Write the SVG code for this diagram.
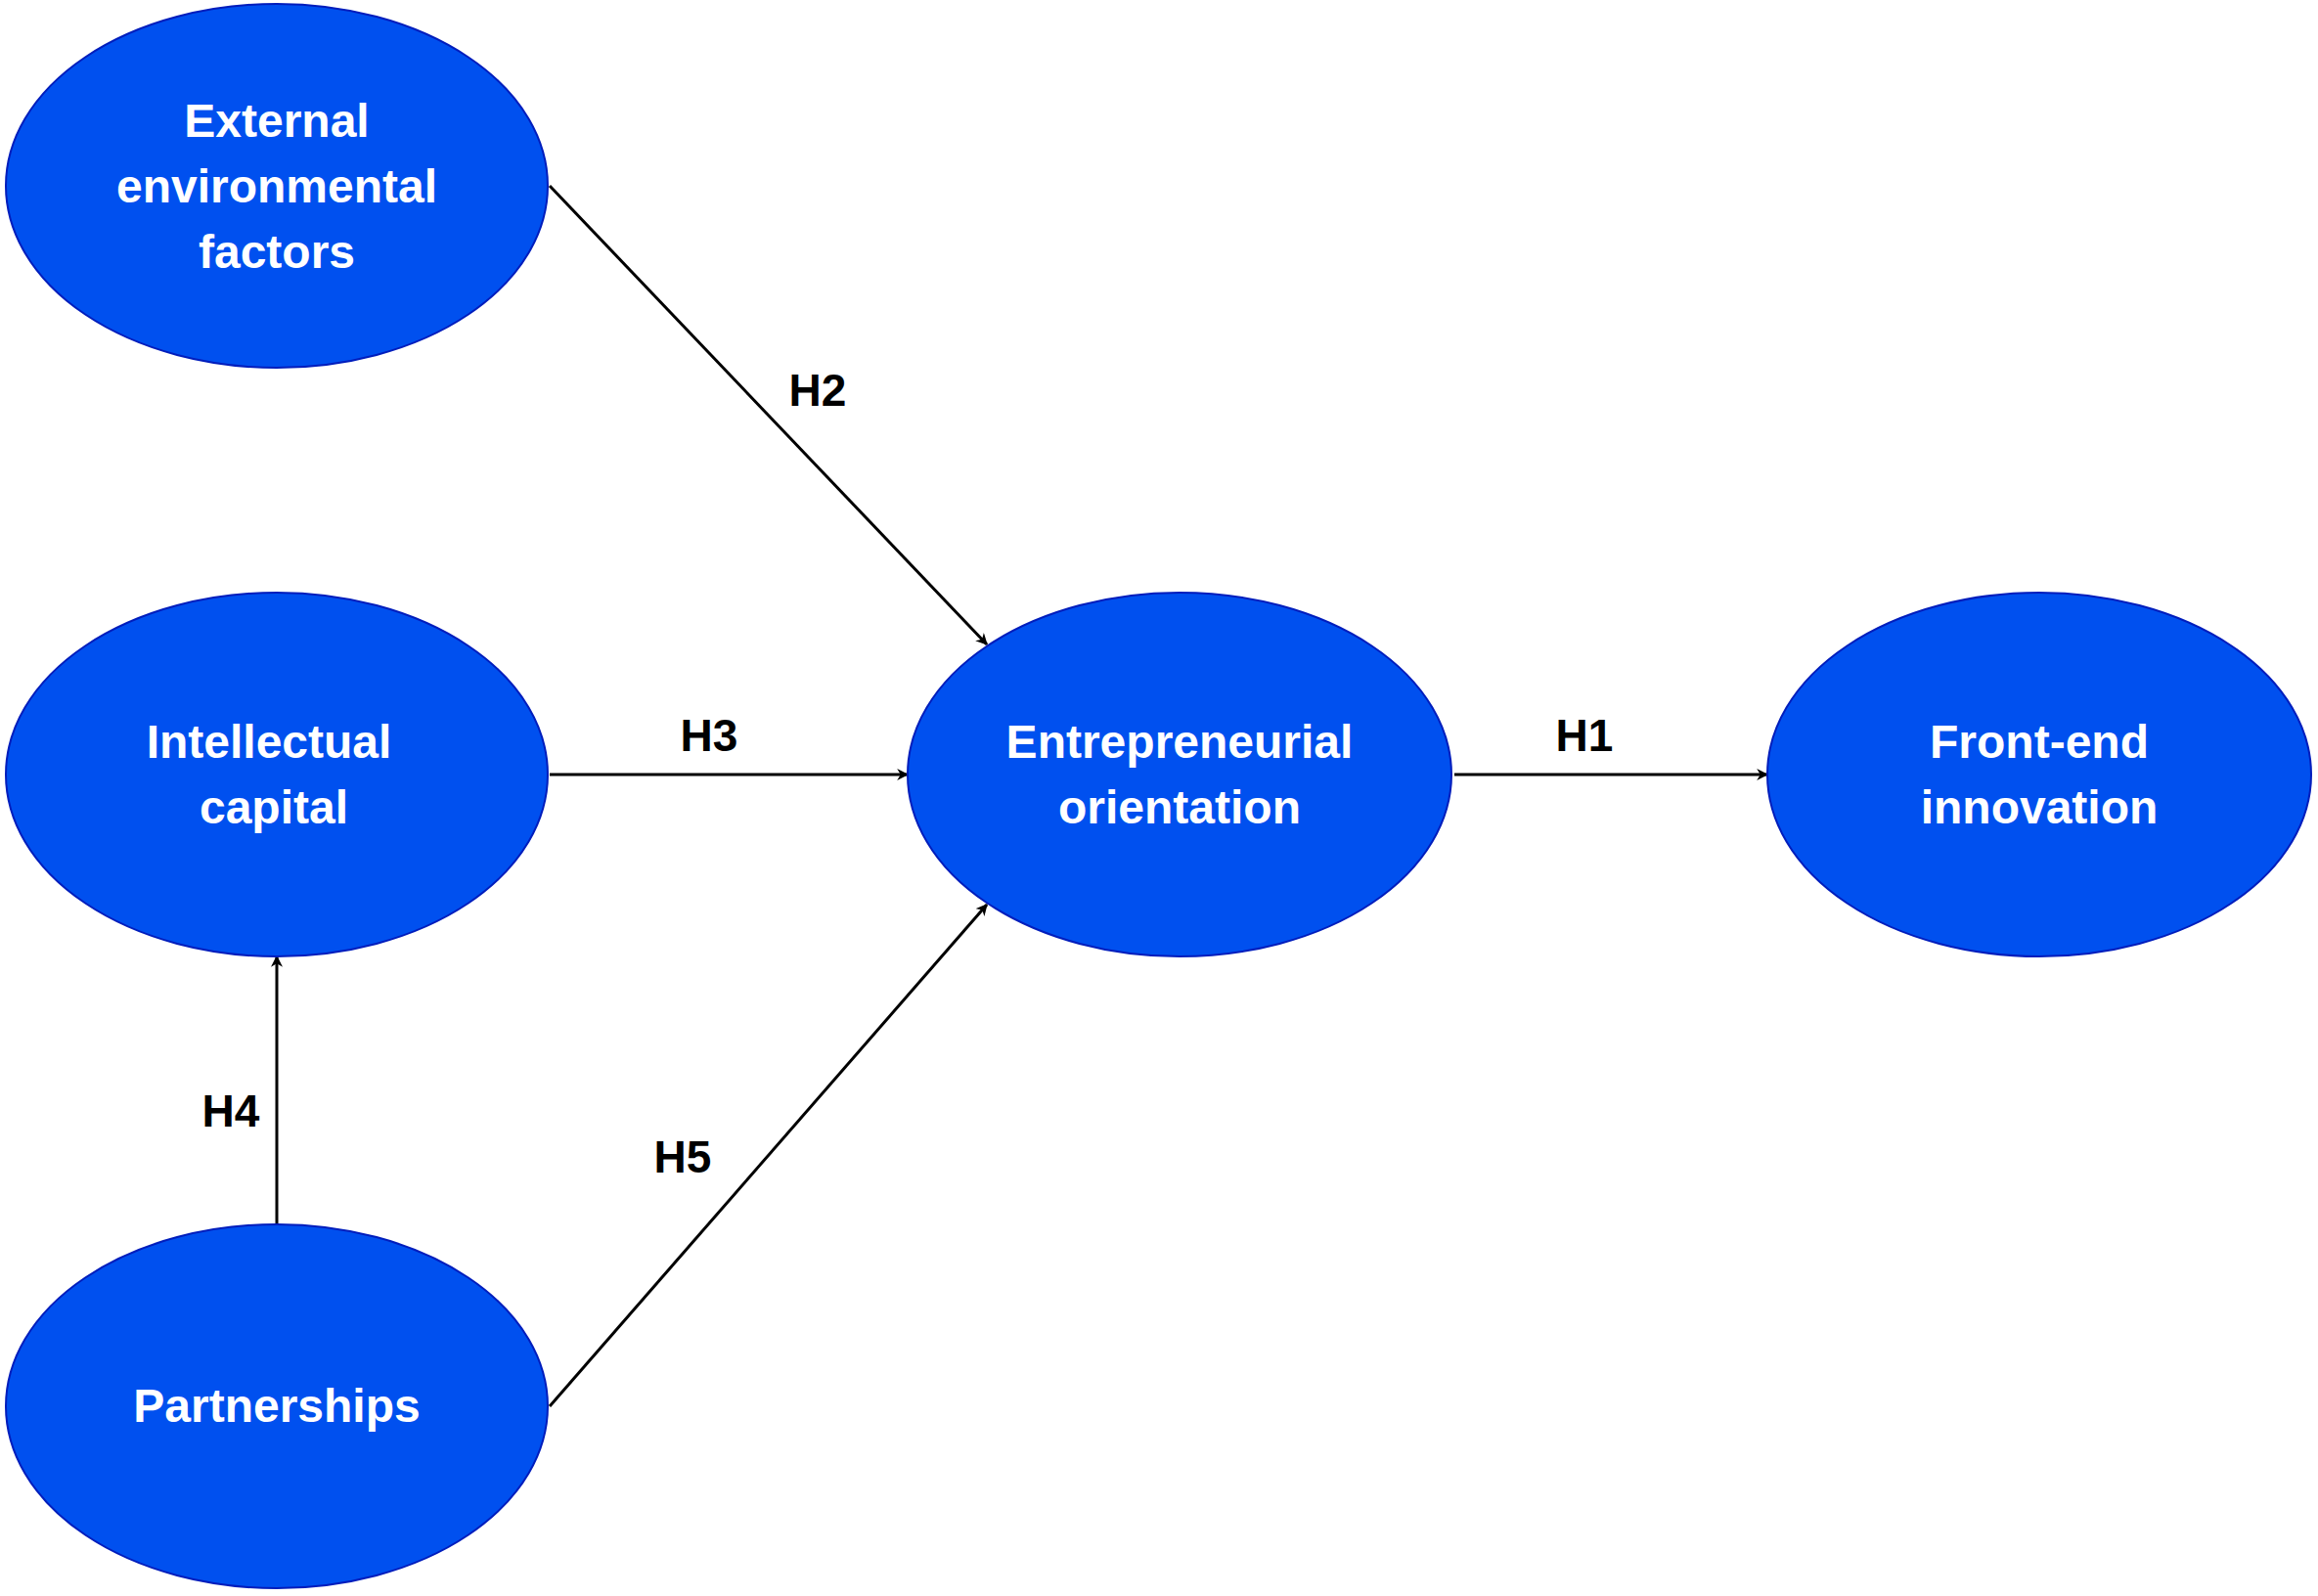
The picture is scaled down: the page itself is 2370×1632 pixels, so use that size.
<svg xmlns="http://www.w3.org/2000/svg" width="2370" height="1632" viewBox="0 0 2370 1632">
<defs>
<style>
.n{fill:#0050ef;stroke:#001dbc;stroke-width:2}
.t{font-family:"Liberation Sans",Arial,sans-serif;font-weight:bold;font-size:48px;fill:#fff;text-anchor:middle}
.l{font-family:"Liberation Sans",Arial,sans-serif;font-weight:bold;font-size:46px;fill:#000;text-anchor:middle}
.e{stroke:#000;stroke-width:3;fill:none;marker-end:url(#a)}
</style>
<marker id="a" viewBox="0 0 20 20" refX="18" refY="10" markerWidth="12" markerHeight="12" markerUnits="userSpaceOnUse" orient="auto">
<path d="M0,0 L20,10 L0,20 L6,10 Z" fill="#000"/>
</marker>
</defs>
<rect width="2370" height="1632" fill="#fff"/>
<g id="connectors">
<line class="e" x1="562" y1="190" x2="1009" y2="659"/>
<line class="e" x1="562" y1="792" x2="928" y2="792"/>
<line class="e" x1="1487" y1="792" x2="1807" y2="792"/>
<line class="e" x1="283" y1="1253" x2="283" y2="978"/>
<line class="e" x1="562" y1="1438" x2="1009" y2="925"/>
<text class="l" x="836" y="415">H2</text>
<text class="l" x="725" y="768">H3</text>
<text class="l" x="1620" y="768">H1</text>
<text class="l" x="236" y="1152">H4</text>
<text class="l" x="698" y="1199">H5</text>
</g>
<g id="external"><ellipse class="n" cx="283" cy="190" rx="277" ry="186"/>
<text class="t" x="283" y="140">External</text><text class="t" x="283" y="207">environmental</text><text class="t" x="283" y="274">factors</text></g>
<g id="intellectual"><ellipse class="n" cx="283" cy="792" rx="277" ry="186"/>
<text class="t" x="275" y="775">Intellectual</text><text class="t" x="280" y="842">capital</text></g>
<g id="partnerships"><ellipse class="n" cx="283" cy="1438" rx="277" ry="186"/>
<text class="t" x="283" y="1454">Partnerships</text></g>
<g id="entrepreneurial"><ellipse class="n" cx="1206" cy="792" rx="278" ry="186"/>
<text class="t" x="1206" y="775">Entrepreneurial</text><text class="t" x="1206" y="842">orientation</text></g>
<g id="frontend"><ellipse class="n" cx="2085" cy="792" rx="278" ry="186"/>
<text class="t" x="2085" y="775">Front-end</text><text class="t" x="2085" y="842">innovation</text></g>
</svg>
